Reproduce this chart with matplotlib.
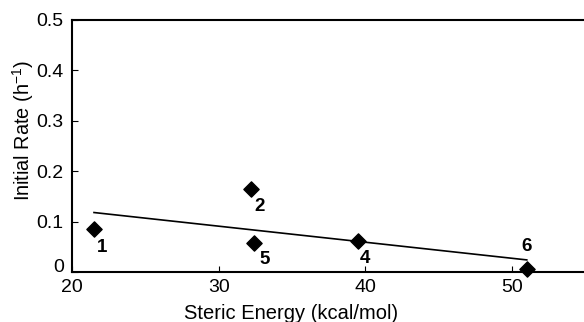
import matplotlib.pyplot as plt

plt.rcParams['font.family'] = ['Liberation Sans', 'DejaVu Sans']

energy = [21.5, 32.2, 39.5, 51.0, 32.4]
rate = [0.085, 0.165, 0.062, 0.005, 0.058]
labels = ['1', '2', '4', '6', '5']
label_offsets = [(6, -13.5), (6, -12.5), (5, -12.5), (0, 16.5), (8, -11.8)]

fit_x = [21.5, 51.0]
fit_y = [0.118, 0.024]

fig = plt.figure(figsize=(5.84, 3.22), dpi=100)
ax = fig.add_axes([72 / 584, 50 / 322, 512 / 584, 252 / 322])

ax.plot(fit_x, fit_y, color='black', linewidth=1.2)
ax.scatter(energy, rate, marker='D', s=60, color='black', zorder=3, clip_on=False)
for x, y, t, off in zip(energy, rate, labels, label_offsets):
    ax.annotate(t, (x, y), xytext=off, textcoords='offset points',
                fontsize=13.5, fontweight='bold', ha='center', va='center')

ax.set_xlim(20, 54.9)
ax.set_ylim(0, 0.5)
ax.set_xticks([20, 30, 40, 50])
ax.set_yticks([0, 0.1, 0.2, 0.3, 0.4, 0.5])
ax.set_yticklabels(['0', '0.1', '0.2', '0.3', '0.4', '0.5'])
ax.tick_params(direction='in', length=4, width=0.8, labelsize=14)
ax.tick_params(axis='x', pad=5)
ax.tick_params(axis='y', pad=6)
ax.get_yticklabels()[0].set_va('baseline')
ax.spines['right'].set_visible(False)
for s in ['left', 'top', 'bottom']:
    ax.spines[s].set_linewidth(1.5)

ax.set_xlabel('Steric Energy (kcal/mol)', fontsize=14.5)
ax.set_ylabel('Initial Rate (h$^{\\mathregular{-1}}$)', fontsize=14.3)
ax.xaxis.set_label_coords(0.428, -0.128)
ax.yaxis.set_label_coords(-0.07, 0.56)

fig.savefig('out.png', dpi=100)
